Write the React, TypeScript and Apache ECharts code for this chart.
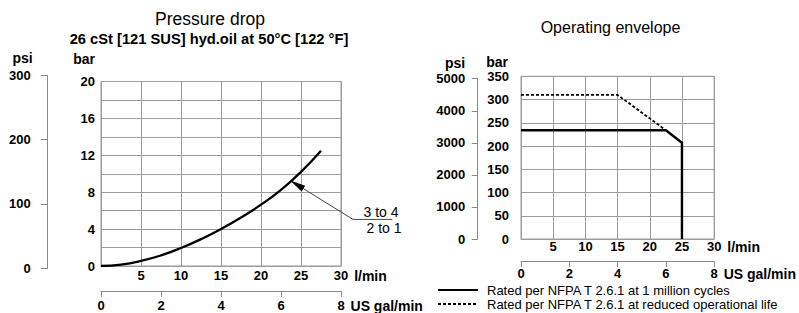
import React, { useEffect, useRef } from 'react';
import * as echarts from 'echarts';

const FONT = '"Liberation Sans", Arial, Helvetica, sans-serif';
const GRID = '#9c9c9c';
const AXIS = '#8a8a8a';

// ---- Pressure drop (left chart) ----
const pdFlowLpm = [0, 2.5, 5, 7.5, 10, 12.5, 15, 17.5, 20, 22.5, 25, 27.5];
const pdBar = [0, 0.15, 0.55, 1.15, 1.95, 2.9, 4.0, 5.25, 6.65, 8.25, 10.2, 12.5];
// leader annotation: end of label line, corner, arrow tip (l/min, bar)
const leaderLpm = [36.4, 31.5, 23.6];
const leaderBar = [5.05, 5.05, 9.3];
const leaderLabels = ['3 to 4', '2 to 1'];

// ---- Operating envelope (right chart) ----
const envSolidLpm = [0, 22.5, 25, 25];
const envSolidBar = [234, 234, 207, 0];
const envDashedLpm = [0, 15, 22.5];
const envDashedBar = [310, 310, 234];
const legendNames = [
  'Rated per NFPA T 2.6.1 at 1 million cycles',
  'Rated per NFPA T 2.6.1 at reduced operational life',
];

const titles = ['Pressure drop', '26 cSt [121 SUS] hyd.oil at 50°C [122 °F]', 'Operating envelope'];

const lbl = (extra: any = {}) => ({
  color: '#000',
  fontFamily: FONT,
  fontSize: 13,
  fontWeight: 'bold',
  formatter: (v: number) => String(v),
  ...extra,
});
const unitName = (extra: any = {}) => ({
  color: '#000',
  fontFamily: FONT,
  fontSize: 14,
  fontWeight: 'bold',
  ...extra,
});
const hideZero = (v: number) => (v === 0 ? '' : String(v));

function buildOption(): any {
  return {
    animation: false,
    textStyle: { fontFamily: FONT },
    graphic: [
      { type: 'text', x: 210, y: 19, style: { text: titles[0], align: 'center', verticalAlign: 'middle', fontSize: 17.5, fontFamily: FONT, fill: '#000' } },
      { type: 'text', x: 209, y: 38.5, style: { text: titles[1], align: 'center', verticalAlign: 'middle', fontSize: 14.7, fontWeight: 'bold', fontFamily: FONT, fill: '#000' } },
      { type: 'text', x: 610.5, y: 27, style: { text: titles[2], align: 'center', verticalAlign: 'middle', fontSize: 16, fontFamily: FONT, fill: '#000' } },
    ],
    legend: {
      show: true,
      orient: 'vertical',
      left: 437,
      top: 283,
      padding: 0,
      itemGap: 0,
      itemWidth: 40,
      itemHeight: 14,
      selectedMode: false,
      data: legendNames,
      itemStyle: { color: 'rgba(0,0,0,0)', borderColor: 'rgba(0,0,0,0)', borderWidth: 0 },
      textStyle: { color: '#000', fontFamily: FONT, fontSize: 13, lineHeight: 14, padding: [0, 0, 0, 4] },
    },
    grid: [
      { left: 101, top: 81.5, width: 240, height: 186.8, show: true, borderColor: GRID, borderWidth: 1 },
      { left: 47.7, top: 75.3, width: 1, height: 193 },
      { left: 521, top: 76.3, width: 202, height: 162.7, show: true, borderColor: GRID, borderWidth: 1 },
      { left: 477.7, top: 78.7, width: 1, height: 160.3 },
    ],
    xAxis: [
      {
        gridIndex: 0, type: 'value', min: 0, max: 30, interval: 5,
        axisLine: { show: true, onZero: false, lineStyle: { color: GRID } },
        axisTick: { show: false },
        axisLabel: lbl({ margin: 3, formatter: hideZero }),
        splitLine: { show: true, lineStyle: { color: GRID } },
        name: 'l/min', nameLocation: 'end', nameGap: 6,
        nameTextStyle: unitName({ verticalAlign: 'top', padding: [3, 0, 0, 0] }),
      },
      {
        gridIndex: 0, type: 'value', min: 0, max: 8, interval: 2, position: 'bottom', offset: 25,
        axisLine: { show: true, onZero: false, lineStyle: { color: AXIS } },
        axisTick: { show: true, length: 6, lineStyle: { color: AXIS } },
        axisLabel: lbl({ margin: 8 }),
        splitLine: { show: false },
        name: 'US gal/min', nameLocation: 'end', nameGap: 6,
        nameTextStyle: unitName({ verticalAlign: 'top', padding: [8, 0, 0, 0] }),
      },
      { gridIndex: 1, type: 'value', show: false, min: 0, max: 1 },
      {
        gridIndex: 2, type: 'value', min: 0, max: 30, interval: 5,
        axisLine: { show: true, onZero: false, lineStyle: { color: GRID } },
        axisTick: { show: false },
        axisLabel: lbl({ margin: 1, formatter: hideZero }),
        splitLine: { show: true, lineStyle: { color: GRID } },
        name: 'l/min', nameLocation: 'end', nameGap: 5,
        nameTextStyle: unitName({ verticalAlign: 'top', padding: [1, 0, 0, 0] }),
      },
      {
        gridIndex: 2, type: 'value', min: 0, max: 8, interval: 2, position: 'bottom', offset: 22,
        axisLine: { show: true, onZero: false, lineStyle: { color: AXIS } },
        axisTick: { show: true, length: 6, lineStyle: { color: AXIS } },
        axisLabel: lbl({ margin: 6 }),
        splitLine: { show: false },
        name: 'US gal/min', nameLocation: 'end', nameGap: 6,
        nameTextStyle: unitName({ verticalAlign: 'top', padding: [6, 0, 0, 0] }),
      },
      { gridIndex: 3, type: 'value', show: false, min: 0, max: 1 },
    ],
    yAxis: [
      {
        gridIndex: 0, type: 'value', min: 0, max: 20, interval: 4,
        axisLine: { show: true, onZero: false, lineStyle: { color: GRID } },
        axisTick: { show: false },
        minorTick: { show: false, splitNumber: 2 },
        minorSplitLine: { show: true, lineStyle: { color: GRID } },
        splitLine: { show: true, lineStyle: { color: GRID } },
        axisLabel: lbl({ margin: 6 }),
        name: 'bar', nameLocation: 'end', nameGap: 16,
        nameTextStyle: unitName({ align: 'right', padding: [0, 6, 0, 0] }),
      },
      {
        gridIndex: 1, type: 'value', min: 0, max: 300, interval: 100,
        axisLine: { show: true, onZero: false, lineStyle: { color: AXIS } },
        axisTick: { show: true, length: 7, lineStyle: { color: AXIS } },
        splitLine: { show: false },
        axisLabel: lbl({ margin: 17 }),
        name: 'psi', nameLocation: 'end', nameGap: 10,
        nameTextStyle: unitName({ align: 'right', padding: [0, 15, 0, 0] }),
      },
      {
        gridIndex: 2, type: 'value', min: 0, max: 350, interval: 50,
        axisLine: { show: true, onZero: false, lineStyle: { color: GRID } },
        axisTick: { show: false },
        splitLine: { show: true, lineStyle: { color: GRID } },
        axisLabel: lbl({ margin: 12 }),
        name: 'bar', nameLocation: 'end', nameGap: 7,
        nameTextStyle: unitName({ align: 'right', padding: [0, 13, 0, 0] }),
      },
      {
        gridIndex: 3, type: 'value', min: 0, max: 5000, interval: 1000,
        axisLine: { show: true, onZero: false, lineStyle: { color: AXIS } },
        axisTick: { show: true, length: 6, lineStyle: { color: AXIS } },
        splitLine: { show: false },
        axisLabel: lbl({ margin: 12.5 }),
        name: 'psi', nameLocation: 'end', nameGap: 9,
        nameTextStyle: unitName({ align: 'right', padding: [0, 12.5, 0, 0] }),
      },
    ],
    series: [
      {
        type: 'line', name: 'Pressure drop', xAxisIndex: 0, yAxisIndex: 0,
        data: pdFlowLpm.map((x, i) => [x, pdBar[i]]),
        smooth: true, symbol: 'none', showSymbol: false, silent: true,
        lineStyle: { color: '#000', width: 2.3 },
      },
      {
        type: 'custom', xAxisIndex: 0, yAxisIndex: 0, silent: true, clip: false,
        data: [[leaderLpm[0], leaderBar[0], leaderLpm[1], leaderBar[1], leaderLpm[2], leaderBar[2]]],
        renderItem: (params: any, api: any) => {
          const pEnd = api.coord([api.value(0), api.value(1)]);
          const pCorner = api.coord([api.value(2), api.value(3)]);
          const pTip = api.coord([api.value(4), api.value(5)]);
          const dx = pTip[0] - pCorner[0];
          const dy = pTip[1] - pCorner[1];
          const len = Math.hypot(dx, dy) || 1;
          const ux = dx / len;
          const uy = dy / len;
          const headLen = 16;
          const headHalf = 3.3;
          const bx = pTip[0] - ux * headLen;
          const by = pTip[1] - uy * headLen;
          return {
            type: 'group',
            children: [
              {
                type: 'polyline',
                shape: { points: [pEnd, pCorner, [bx, by]] },
                style: { stroke: '#444', lineWidth: 1, fill: null },
              },
              {
                type: 'polygon',
                shape: { points: [pTip, [bx - uy * headHalf, by + ux * headHalf], [bx + uy * headHalf, by - ux * headHalf]] },
                style: { fill: '#000' },
              },
              {
                type: 'text', x: pCorner[0] + 28, y: pCorner[1] - 7.7,
                style: { text: leaderLabels[0], align: 'center', verticalAlign: 'middle', fontSize: 14, fontFamily: FONT, fill: '#000' },
              },
              {
                type: 'text', x: pCorner[0] + 31, y: pCorner[1] + 9,
                style: { text: leaderLabels[1], align: 'center', verticalAlign: 'middle', fontSize: 14, fontFamily: FONT, fill: '#000' },
              },
            ],
          };
        },
      },
      {
        type: 'line', name: legendNames[0], xAxisIndex: 3, yAxisIndex: 2,
        data: envSolidLpm.map((x, i) => [x, envSolidBar[i]]),
        symbol: 'none', showSymbol: false, silent: true,
        itemStyle: { color: '#000' },
        lineStyle: { color: '#000', width: 2.4 },
      },
      {
        type: 'line', name: legendNames[1], xAxisIndex: 3, yAxisIndex: 2,
        data: envDashedLpm.map((x, i) => [x, envDashedBar[i]]),
        symbol: 'none', showSymbol: false, silent: true,
        itemStyle: { color: '#000' },
        lineStyle: { color: '#000', width: 1.8, type: [3, 2] },
      },
    ],
  };
}

export default function App() {
  const ref = useRef<HTMLDivElement>(null);
  useEffect(() => {
    if (!ref.current) return;
    const chart = echarts.init(ref.current, undefined, { renderer: 'svg' });
    chart.setOption(buildOption());
    return () => chart.dispose();
  }, []);
  return (
    <div
      ref={ref}
      style={{ position: 'fixed', left: 0, top: 0, width: 799, height: 313, background: '#fff' }}
    />
  );
}
